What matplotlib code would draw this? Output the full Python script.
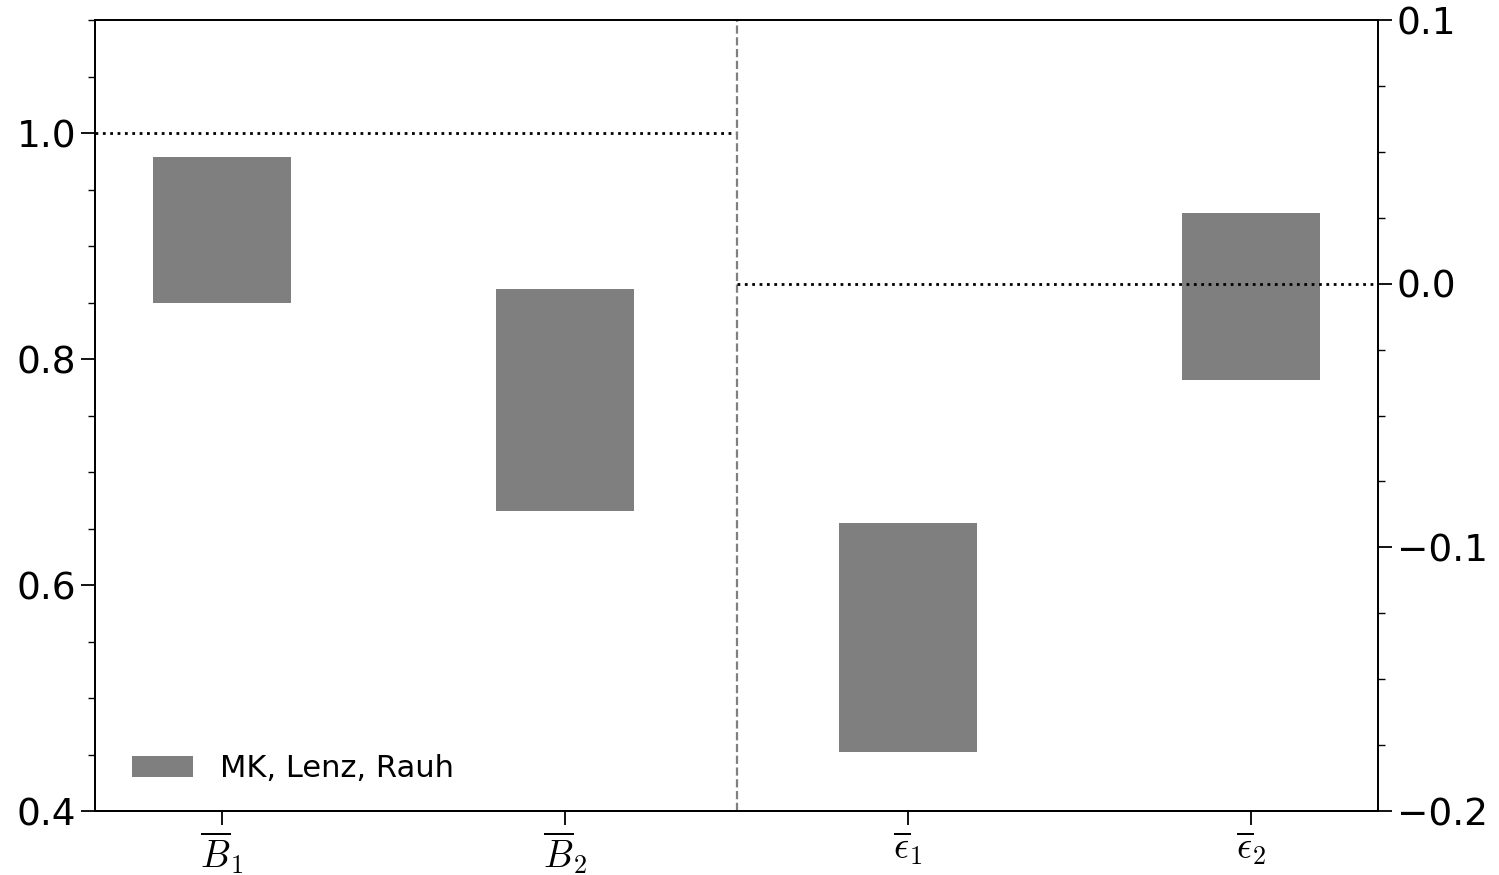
import matplotlib
matplotlib.use("Agg")
import matplotlib.pyplot as plt
from matplotlib.ticker import MultipleLocator

labels = [r"$\overline{B}_1$", r"$\overline{B}_2$", r"$\overline{\epsilon}_1$", r"$\overline{\epsilon}_2$"]
# ranges on the left axis (B parameters)
b_low = [0.850, 0.6655]
b_high = [0.979, 0.862]
# ranges on the right axis (epsilon parameters)
e_low = [-0.1775, -0.0364]
e_high = [-0.0906, 0.0269]
legend_label = "MK, Lenz, Rauh"

plt.rcParams["mathtext.fontset"] = "cm"

fig = plt.figure(figsize=(14.99, 8.75), dpi=100)
ax = fig.add_axes([0.0634, 0.0731, 0.8559, 0.904])
ax2 = ax.twinx()

width = 0.4
xb = [0, 1]
xe = [2, 3]
ax.bar(xb, [h - l for l, h in zip(b_low, b_high)], bottom=b_low, width=width,
       color="#7f7f7f", label=legend_label)
ax2.bar(xe, [h - l for l, h in zip(e_low, e_high)], bottom=e_low, width=width,
        color="#7f7f7f")

ax.set_xlim(-0.37, 3.37)
ax.set_ylim(0.4, 1.1)
ax2.set_ylim(-0.2, 0.1)

ax.plot([-0.37, 1.5], [1.0, 1.0], ls=":", color="black", lw=2)
ax2.plot([1.5, 3.37], [0.0, 0.0], ls=":", color="black", lw=2)
ax.axvline(1.5, ls="--", color="#808080", lw=1.6)

ax.set_xticks(range(4))
ax.set_xticklabels(labels, fontsize=27)
ax.yaxis.set_major_locator(MultipleLocator(0.2))
ax.yaxis.set_minor_locator(MultipleLocator(0.05))
ax2.yaxis.set_major_locator(MultipleLocator(0.1))
ax2.yaxis.set_minor_locator(MultipleLocator(0.025))

for a in (ax, ax2):
    a.tick_params(axis="y", which="major", labelsize=27, length=10, width=1.3)
    a.tick_params(axis="x", which="major", length=10, width=1.3, pad=3)
    a.tick_params(axis="both", which="minor", length=5, width=1.0)
    for s in a.spines.values():
        s.set_linewidth(1.3)

ax.legend(loc="lower left", bbox_to_anchor=(0.0143, 0.0118), frameon=False,
          fontsize=22, handlelength=2.0, handletextpad=0.9,
          borderaxespad=0.0, borderpad=0.6)

fig.savefig("out.png", dpi=100)
